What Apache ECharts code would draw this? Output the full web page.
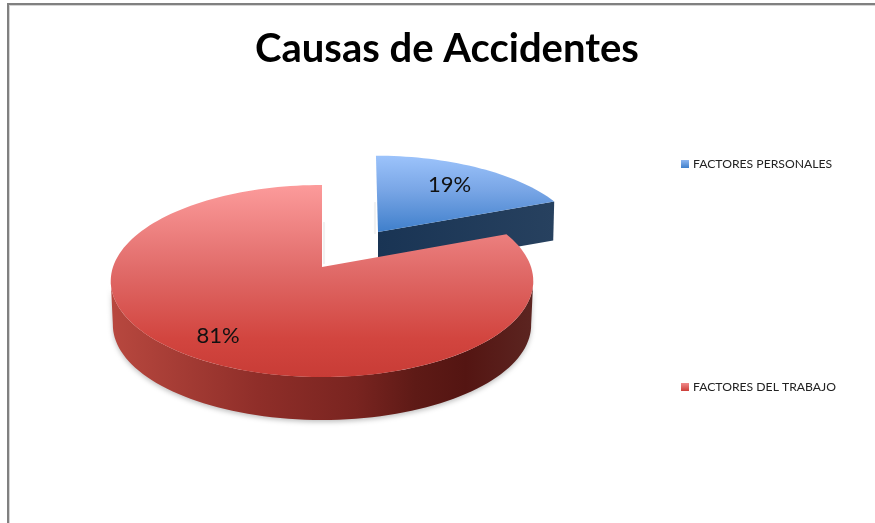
<!DOCTYPE html>
<html lang="es">
<head>
    <meta charset="UTF-8">
    <title>Causas de Accidentes</title>
    <script src="https://cdn.jsdelivr.net/npm/echarts@6/dist/echarts.min.js"></script>
    <style>
        *{
            margin: 0;
            padding: 0;
        }
        html,body{
            width: 100%;
            height: 100%;
            overflow: hidden;
            background: #fff;
        }
        .container{
            width: 875px;
            height: 523px;
        }
    </style>
</head>
<body>
<div class="container"></div>
<script>
    const titleText = 'Causas de Accidentes'
    const categories = ['FACTORES PERSONALES', 'FACTORES DEL TRABAJO']
    const values = [19, 81]

    // perspective of the tilted disc
    const cx = 322, cy = 267, rx = 209, ry = 94, persp = 0.146
    const depth = 44, bottomScale = 0.99
    const total = values.reduce((a, b) => a + b, 0)
    const startAngles = values.map((v, i) => values.slice(0, i).reduce((a, b) => a + b, 0) / total * 360)

    function project(deg, r) {
        let t = deg * Math.PI / 180
        let u = Math.sin(t) * r, v = -Math.cos(t) * r
        let s = 1 / (1 - persp * v)
        return [rx * u * s, ry * v * s]
    }
    function rim(from, to, r) {
        let pts = []
        let n = Math.ceil(Math.abs(to - from) / 2)
        for (let i = 0; i <= n; i++) {
            pts.push(project(from + (to - from) * i / n, r))
        }
        return pts
    }
    function grad(x1, y1, x2, y2, stops) {
        return new echarts.graphic.LinearGradient(x1, y1, x2, y2,
            stops.map(s => ({offset: s[0], color: s[1]})))
    }

    const blueTop = [[0, '#9cc3fb'], [0.45, '#79a6e6'], [1, '#3f7fcb']]
    const blueSide = [[0, '#193454'], [1, '#27415f']]
    const redTop = [[0, '#fc9b9b'], [0.45, '#e06a68'], [0.8, '#d2453f'], [1, '#c83c36']]
    const redSide = [[0, '#b8483f'], [0.35, '#8f2e29'], [0.58, '#792420'], [0.72, '#5e1a16'], [0.84, '#541512'], [1, '#5c2521']]

    function renderBlue(params, api) {
        let value = api.value(0)
        let from = startAngles[0], to = from + value / total * 360
        let ox = 378, oy = 232, kx = 0.96, ky = 0.93
        let map = p => [ox + p[0] * kx + p[1] * 0.025, oy + p[1] * ky]
        let top = rim(from, to, 1).map(map)
        let end = top[top.length - 1]
        let mid = map(project((from + to) / 2, 0.7))
        return {
            type: 'group',
            children: [
                {
                    type: 'polygon',
                    shape: {points: [[ox, oy], end, [end[0] - 1, end[1] + 39], [ox, oy + 39]]},
                    style: {fill: grad(0, 0, 1, 0, blueSide)}
                },
                {
                    type: 'line',
                    shape: {x1: ox - 3, y1: oy - 30, x2: ox - 3, y2: oy + 2},
                    style: {stroke: 'rgba(0,0,0,0.1)', lineWidth: 1, shadowBlur: 4, shadowColor: 'rgba(0,0,0,0.35)'}
                },
                {
                    type: 'polygon',
                    shape: {points: [[ox, oy]].concat(top)},
                    style: {fill: grad(0, 0, 0, 1, blueTop)}
                },
                {
                    type: 'text',
                    style: {
                        x: mid[0], y: mid[1], text: Math.round(value / total * 100) + '%',
                        fill: '#111', font: '22px Lato', align: 'center', verticalAlign: 'middle'
                    }
                }
            ]
        }
    }

    function renderRed(params, api) {
        let value = api.value(0)
        let from = startAngles[1], to = from + value / total * 360
        let map = p => [cx + p[0], cy + p[1]]
        let mapLow = p => [cx + p[0] * bottomScale, cy + depth + p[1] * bottomScale]
        let top = rim(from, to, 1).map(map)
        let sideTop = rim(98, 262, 1).map(map)
        let sideLow = rim(262, 98, 1).map(mapLow)
        let mid = map(project((from + to) / 2, 0.8))
        return {
            type: 'group',
            children: [
                {
                    type: 'polygon',
                    shape: {points: sideTop.concat(sideLow)},
                    style: {
                        fill: grad(0, 0, 1, 0, redSide),
                        shadowBlur: 5,
                        shadowColor: 'rgba(0,0,0,0.25)',
                        shadowOffsetY: 2
                    }
                },
                {
                    type: 'line',
                    shape: {x1: cx + 2, y1: cy - 45, x2: cx + 2, y2: cy - 3},
                    style: {stroke: 'rgba(0,0,0,0.1)', lineWidth: 1, shadowBlur: 4, shadowColor: 'rgba(0,0,0,0.35)'}
                },
                {
                    type: 'polygon',
                    shape: {points: [[cx, cy]].concat(top)},
                    style: {fill: grad(0, 0, 0, 1, redTop)}
                },
                {
                    type: 'text',
                    style: {
                        x: mid[0], y: mid[1], text: Math.round(value / total * 100) + '%',
                        fill: '#111', font: '22px Lato', align: 'center', verticalAlign: 'middle'
                    }
                }
            ]
        }
    }

    window.onload = function () {
        let mycharts = echarts.init(document.querySelector('.container'), null, {renderer: 'canvas'})
        let options = {
            animation: false,
            backgroundColor: '#fff',
            title: {
                text: titleText,
                left: 250,
                top: 24,
                textStyle: {fontFamily: 'Lato', fontSize: 40, fontWeight: 'bold', color: '#000'}
            },
            legend: {
                orient: 'vertical',
                left: 676,
                top: 153,
                itemWidth: 8,
                itemHeight: 8,
                itemGap: 211,
                icon: 'rect',
                textStyle: {fontFamily: 'Lato', fontSize: 12.2, color: '#222', padding: [0, 0, 0, -1]},
                data: [
                    {name: categories[0], itemStyle: {color: grad(0, 0, 0, 1, [[0, '#8db6f0'], [1, '#3f7fcb']])}},
                    {name: categories[1], itemStyle: {color: grad(0, 0, 0, 1, [[0, '#f08a8a'], [1, '#cc3f39']])}}
                ]
            },
            graphic: [
                {type: 'rect', shape: {x: 7, y: 3, width: 868, height: 2}, style: {fill: '#808080'}, silent: true},
                {type: 'rect', shape: {x: 7, y: 3, width: 2, height: 520}, style: {fill: '#808080'}, silent: true},
                {type: 'rect', shape: {x: 9, y: 5, width: 866, height: 1}, style: {fill: '#d4d4d4'}, silent: true},
                {type: 'rect', shape: {x: 9, y: 5, width: 1, height: 518}, style: {fill: '#d4d4d4'}, silent: true}
            ],
            series: [
                {
                    name: categories[0],
                    type: 'custom',
                    coordinateSystem: 'none',
                    renderItem: renderBlue,
                    data: [[values[0]]],
                    silent: true
                },
                {
                    name: categories[1],
                    type: 'custom',
                    coordinateSystem: 'none',
                    renderItem: renderRed,
                    data: [[values[1]]],
                    silent: true
                }
            ]
        }
        mycharts.setOption(options)
    }
</script>
</body>
</html>
